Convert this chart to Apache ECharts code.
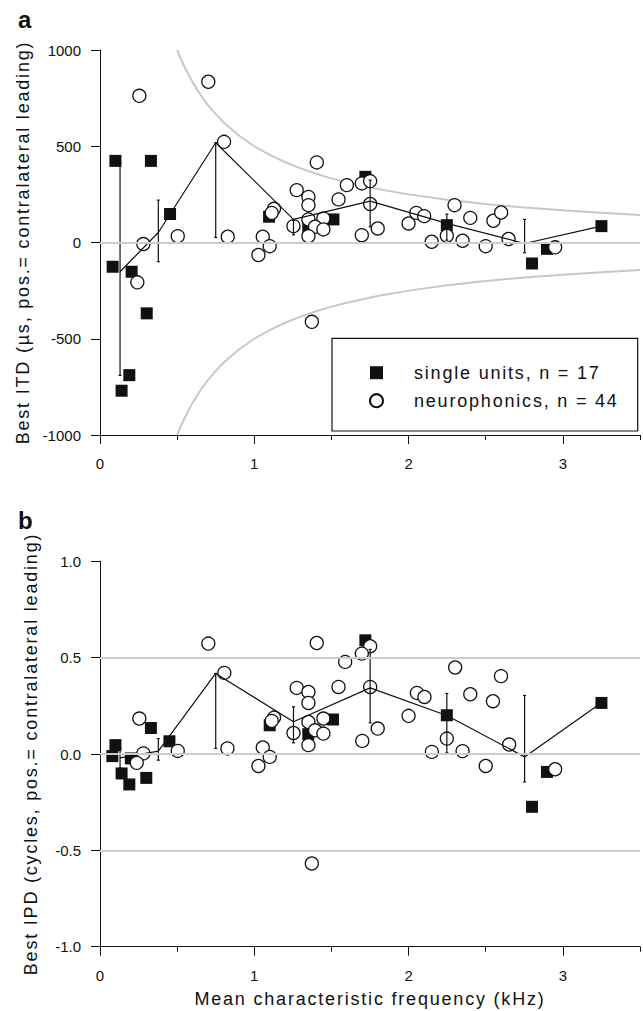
<!DOCTYPE html>
<html>
<head>
<meta charset="utf-8">
<script src="https://cdn.jsdelivr.net/npm/echarts@6/dist/echarts.min.js"></script>
<style>
html, body { margin: 0; padding: 0; background: #ffffff; }
#chart { width: 643px; height: 1011px; }
#chart text[style*="18px"] { letter-spacing: 1.8px; }
</style>
</head>
<body>
<div id="chart"></div>
<script>
// ---------------- data ----------------
const SU_NAME = 'single units, n = 17';
const NP_NAME = 'neurophonics, n = 44';

const xMajorTicks = [0, 1, 2, 3];
const yTicksITD = [-1000, -500, 0, 500, 1000];
const yTicksIPD = [-1.0, -0.5, 0.0, 0.5, 1.0];
const refLinesITD = [0];
const refLinesIPD = [-0.5, 0, 0.5];

// half-period limit curves (panel a)
const curveFreq     = [0.5, 0.525, 0.55, 0.575, 0.6, 0.65, 0.7, 0.75, 0.8, 0.9, 1.0, 1.1, 1.2, 1.3, 1.4, 1.5, 1.6, 1.8, 2.0, 2.25, 2.5, 2.75, 3.0, 3.25, 3.5];
const curveUpperITD = [1000, 952, 909, 870, 833, 769, 714, 667, 625, 556, 500, 455, 417, 385, 357, 333, 313, 278, 250, 222, 200, 182, 167, 154, 143];
const curveLowerITD = [-1000, -952, -909, -870, -833, -769, -714, -667, -625, -556, -500, -455, -417, -385, -357, -333, -313, -278, -250, -222, -200, -182, -167, -154, -143];

// panel a: single units
const suFreqA = [0.082, 0.10, 0.14, 0.19, 0.205, 0.303, 0.33, 0.454, 1.096, 1.35, 1.513, 1.72, 2.248, 2.80, 2.897, 3.25];
const suITD   = [-126, 424, -770, -689, -152, -368, 424, 148, 134, 82, 120, 341, 90, -109, -33, 85];

// panel a: neurophonics
const npFreqA = [0.804, 1.405, 1.275, 1.351, 1.351, 1.128, 1.113, 1.254, 1.351, 1.448, 1.394, 1.448, 1.351, 1.546, 1.600,
                 0.281, 0.504, 0.828, 1.055, 1.100, 1.027, 0.242, 0.255, 0.702, 1.373, 1.697, 1.751, 1.751, 1.697, 1.800,
                 2.000, 2.050, 2.101, 2.150, 2.248, 2.298, 2.350, 2.400, 2.500, 2.550, 2.600, 2.648, 2.950];
const npITD   = [523, 416, 272, 237, 194, 175, 154, 85, 120, 125, 82, 68, 33, 224, 298,
                 -8, 33, 30, 30, -19, -65, -207, 762, 835, -412, 307, 319, 200, 38, 73,
                 99, 154, 137, 4, 35, 194, 9, 128, -19, 113, 156, 18, -25];

// panel a: binned mean and spread
const meanFreq   = [0.13, 0.378, 0.75, 1.254, 1.751, 2.248, 2.752, 3.25];
const meanITD    = [-152, 52, 518, 120, 215, 99, -5, 85];
const errFreq    = [0.13, 0.378, 0.75, 1.254, 1.751, 2.248, 2.752];
const errLowITD  = [-690, -100, 26, 40, 82, 12, -53];
const errHighITD = [415, 220, 518, 116, 324, 147, 120];

// panel b: single units
const suFreqB = [0.08, 0.10, 0.14, 0.19, 0.20, 0.30, 0.33, 0.45, 1.10, 1.35, 1.51, 1.72, 2.248, 2.80, 2.897, 3.25];
const suIPD   = [-0.011, 0.046, -0.101, -0.158, -0.023, -0.124, 0.135, 0.066, 0.149, 0.103, 0.179, 0.59, 0.201, -0.274, -0.093, 0.265];

// panel b: neurophonics
const npFreqB = [0.702, 1.405, 1.589, 0.806, 1.275, 1.351, 1.351, 1.546, 1.128, 1.113, 1.351, 1.448, 1.254, 1.394, 1.448,
                 1.351, 0.255, 0.281, 0.238, 0.504, 0.826, 1.055, 1.100, 1.027, 1.373, 1.751, 1.697, 1.751, 1.800, 1.700,
                 2.000, 2.054, 2.103, 2.151, 2.248, 2.302, 2.350, 2.400, 2.500, 2.547, 2.599, 2.652, 2.950];
const npIPD   = [0.573, 0.576, 0.478, 0.421, 0.343, 0.322, 0.265, 0.348, 0.189, 0.172, 0.166, 0.184, 0.109, 0.123, 0.106,
                 0.046, 0.184, 0.003, -0.046, 0.016, 0.029, 0.034, -0.015, -0.062, -0.568, 0.559, 0.521, 0.348, 0.132, 0.068,
                 0.198, 0.317, 0.296, 0.011, 0.080, 0.449, 0.015, 0.310, -0.062, 0.274, 0.404, 0.049, -0.079];

// panel b: binned mean and spread
const meanIPD    = [-0.02, 0.015, 0.418, 0.167, 0.343, 0.2, -0.015, 0.266];
const errLowIPD  = [-0.072, -0.032, 0.029, 0.058, 0.162, 0.006, -0.145];
const errHighIPD = [0.03, 0.08, 0.418, 0.245, 0.543, 0.314, 0.304];

// ---------------- chart ----------------
const FONT = "'Liberation Sans', Arial, Helvetica, sans-serif";
const INK = '#111111';
const GRAYLINE = '#cccccc';

const zip2 = (a, b) => a.map((v, i) => [v, b[i]]);
const zip3 = (a, b, c) => a.map((v, i) => [v, b[i], c[i]]);

function errRender(params, api) {
  const x = api.value(0), lo = api.value(1), hi = api.value(2);
  const p1 = api.coord([x, lo]);
  const p2 = api.coord([x, hi]);
  const c = 1.5;
  const st = { stroke: INK, lineWidth: 1.2 };
  return {
    type: 'group',
    children: [
      { type: 'line', shape: { x1: p1[0], y1: p1[1], x2: p2[0], y2: p2[1] }, style: st },
      { type: 'line', shape: { x1: p1[0] - c, y1: p1[1], x2: p1[0] + c, y2: p1[1] }, style: st },
      { type: 'line', shape: { x1: p2[0] - c, y1: p2[1], x2: p2[0] + c, y2: p2[1] }, style: st }
    ]
  };
}

function xAxesFor(gi, name) {
  return [
    {
      gridIndex: gi, type: 'value', min: 0, max: 3.5, interval: 0.5, position: 'bottom',
      axisLine: { show: true, onZero: false, lineStyle: { color: INK, width: 1 } },
      axisTick: { show: true, length: 5, lineStyle: { color: INK, width: 1 } },
      axisLabel: { show: true, customValues: xMajorTicks, margin: 21, fontSize: 15, color: INK, fontFamily: FONT },
      splitLine: { show: false },
      name: name, nameLocation: 'middle', nameGap: 43,
      nameTextStyle: { fontSize: 18, color: INK, fontFamily: FONT }
    },
    {
      gridIndex: gi, type: 'value', min: 0, max: 3.5, position: 'bottom',
      axisLine: { show: false, onZero: false },
      axisTick: { show: true, customValues: xMajorTicks, length: 9, lineStyle: { color: INK, width: 1 } },
      axisLabel: { show: false },
      splitLine: { show: false }
    }
  ];
}

function yAxisFor(gi, min, max, interval, name, ticks, fmt) {
  return {
    gridIndex: gi, type: 'value', min: min, max: max, interval: interval,
    axisLine: { show: true, onZero: false, lineStyle: { color: INK, width: 1 } },
    axisTick: { show: true, length: 9, lineStyle: { color: INK, width: 1 } },
    axisLabel: { show: true, margin: 19, fontSize: 15, color: INK, fontFamily: FONT,
                 customValues: ticks, formatter: fmt },
    splitLine: { show: false },
    name: name, nameLocation: 'middle', nameGap: 60, nameRotate: 90,
    nameTextStyle: { fontSize: 18, color: INK, fontFamily: FONT }
  };
}

function refSeries(xi, yi, values) {
  return {
    type: 'line', xAxisIndex: xi, yAxisIndex: yi, data: [], silent: true, z: 1,
    markLine: {
      silent: true, symbol: 'none', label: { show: false }, animation: false,
      lineStyle: { color: GRAYLINE, width: 2, type: 'solid' },
      emphasis: { disabled: true },
      data: values.map(v => ({ yAxis: v }))
    }
  };
}

function panelSeries(xi, yi, suF, suV, npF, npV, mV, eLo, eHi) {
  return [
    {
      name: SU_NAME, type: 'scatter', xAxisIndex: xi, yAxisIndex: yi, z: 2,
      symbol: 'rect', symbolSize: 12, data: zip2(suF, suV),
      itemStyle: { color: INK, opacity: 1 }, emphasis: { disabled: true }
    },
    {
      name: NP_NAME, type: 'scatter', xAxisIndex: xi, yAxisIndex: yi, z: 3,
      symbol: 'circle', symbolSize: 13, data: zip2(npF, npV),
      itemStyle: { color: '#ffffff', borderColor: INK, borderWidth: 1.3, opacity: 1 },
      emphasis: { disabled: true }
    },
    {
      type: 'line', xAxisIndex: xi, yAxisIndex: yi, z: 4, silent: true,
      data: zip2(meanFreq, mV), symbol: 'none',
      lineStyle: { color: INK, width: 1.2 }
    },
    {
      type: 'custom', xAxisIndex: xi, yAxisIndex: yi, z: 4, silent: true,
      data: zip3(errFreq, eLo, eHi), renderItem: errRender,
      encode: { x: 0, y: [1, 2] }
    }
  ];
}

const chart = echarts.init(document.getElementById('chart'), null, { renderer: 'svg' });

const option = {
  animation: false,
  backgroundColor: '#ffffff',
  textStyle: { fontFamily: FONT },
  grid: [
    { left: 100, top: 50, width: 540, height: 385 },
    { left: 100, top: 561.3, width: 540, height: 385.4 }
  ],
  xAxis: [].concat(xAxesFor(0, ''), xAxesFor(1, 'Mean characteristic frequency (kHz)')),
  yAxis: [
    yAxisFor(0, -1000, 1000, 500, 'Best ITD (\u00b5s, pos.= contralateral leading)', yTicksITD,
             v => String(v)),
    yAxisFor(1, -1, 1, 0.5, 'Best IPD (cycles, pos.= contralateral leading)', yTicksIPD,
             v => Number(v).toFixed(1))
  ],
  legend: {
    orient: 'vertical', left: 369, top: 362.7, padding: 0,
    itemWidth: 13, itemHeight: 13, itemGap: 8, selectedMode: false,
    data: [{ name: SU_NAME, icon: 'rect' }, { name: NP_NAME, icon: 'circle' }],
    textStyle: { fontSize: 18, lineHeight: 20, color: INK, fontFamily: FONT, padding: [0, 0, 0, 26] }
  },
  graphic: [
    { type: 'rect', shape: { x: 332, y: 338.3, width: 305.7, height: 92.7 },
      style: { fill: 'none', stroke: INK, lineWidth: 1.2 }, z: 10, silent: true },
    { type: 'text', x: 18, y: 31, silent: true,
      style: { text: 'a', font: "bold 24px 'Liberation Sans', Arial, sans-serif", fill: INK, verticalAlign: 'bottom' } },
    { type: 'text', x: 18, y: 532, silent: true,
      style: { text: 'b', font: "bold 24px 'Liberation Sans', Arial, sans-serif", fill: INK, verticalAlign: 'bottom' } }
  ],
  series: [
    refSeries(0, 0, refLinesITD),
    {
      type: 'line', xAxisIndex: 0, yAxisIndex: 0, z: 1, silent: true, symbol: 'none',
      data: zip2(curveFreq, curveUpperITD), lineStyle: { color: '#c8c8c8', width: 2 }
    },
    {
      type: 'line', xAxisIndex: 0, yAxisIndex: 0, z: 1, silent: true, symbol: 'none',
      data: zip2(curveFreq, curveLowerITD), lineStyle: { color: '#c8c8c8', width: 2 }
    }
  ].concat(
    panelSeries(0, 0, suFreqA, suITD, npFreqA, npITD, meanITD, errLowITD, errHighITD),
    [refSeries(2, 1, refLinesIPD)],
    panelSeries(2, 1, suFreqB, suIPD, npFreqB, npIPD, meanIPD, errLowIPD, errHighIPD)
  )
};

chart.setOption(option);
</script>
</body>
</html>
